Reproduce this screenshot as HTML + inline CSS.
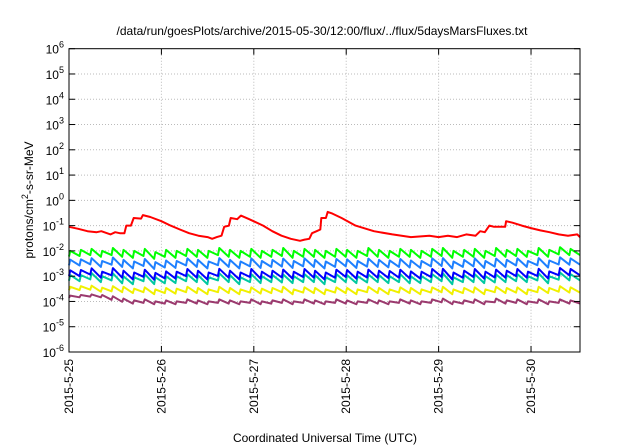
<!DOCTYPE html>
<html><head><meta charset="utf-8"><style>
body{margin:0;background:#fff;}
svg{display:block;font-family:"Liberation Sans",sans-serif;}
</style></head><body>
<svg id="chart" width="640" height="448"></svg>
<script>
const dayLabels=["2015-5-25","2015-5-26","2015-5-27","2015-5-28","2015-5-29","2015-5-30"];
const yExponents=[-6,-5,-4,-3,-2,-1,0,1,2,3,4,5,6];
const redT=[0,0.1,0.2,0.3,0.35,0.45,0.5,0.55,0.6,0.62,0.67,0.7,0.78,0.8,0.88,1.0,1.1,1.2,1.3,1.4,1.5,1.55,1.6,1.65,1.68,1.73,1.75,1.82,1.86,1.95,2.1,2.2,2.3,2.4,2.5,2.55,2.6,2.63,2.68,2.72,2.73,2.78,2.8,2.85,2.95,3.1,3.3,3.5,3.7,3.9,4.0,4.1,4.2,4.3,4.4,4.45,4.5,4.55,4.6,4.72,4.73,4.8,4.9,5.0,5.1,5.2,5.3,5.4,5.5,5.53];
const redV=[0.09,0.075,0.06,0.055,0.06,0.045,0.055,0.05,0.05,0.1,0.1,0.2,0.19,0.26,0.22,0.15,0.1,0.07,0.05,0.04,0.035,0.03,0.035,0.04,0.09,0.1,0.2,0.18,0.25,0.18,0.1,0.06,0.04,0.03,0.025,0.028,0.03,0.05,0.06,0.07,0.2,0.2,0.35,0.3,0.2,0.1,0.06,0.045,0.035,0.04,0.035,0.04,0.035,0.045,0.04,0.06,0.055,0.1,0.09,0.09,0.15,0.13,0.1,0.08,0.065,0.055,0.045,0.04,0.045,0.035];
const greenPeak=[1.0,1.1,1.2,1.0,1.3,1.1,1.0,1.2,0.9,1.1,1.0,1.2,1.1,1.0,1.3,1.1,1.0,1.2,1.0,1.1,1.3,1.0,1.2,1.1,1.0,1.2,1.1,1.0,1.3,1.1,1.0,1.2,1.1,1.0,1.2,1.3,1.0,1.1,1.2,1.0,1.3,1.1,1.2,1.0,1.3,1.1,1.4,1.2];
const greenLow=[0.6,0.65,0.7,0.6,0.7,0.6,0.55,0.65,0.5,0.6,0.55,0.65,0.6,0.55,0.7,0.6,0.55,0.6,0.55,0.6,0.65,0.55,0.6,0.6,0.55,0.6,0.6,0.55,0.65,0.6,0.55,0.6,0.6,0.55,0.6,0.65,0.55,0.6,0.6,0.55,0.65,0.6,0.65,0.6,0.7,0.6,0.75,0.7];
const lblueFactor=[0.45,0.42,0.43,0.4,0.42,0.4,0.38,0.4,0.4,0.38,0.4,0.42,0.4,0.38,0.4,0.4,0.38,0.42,0.4,0.4,0.38,0.4,0.42,0.4,0.38,0.4,0.42,0.4,0.38,0.4,0.42,0.4,0.38,0.4,0.42,0.4,0.38,0.4,0.42,0.4,0.38,0.4,0.42,0.4,0.4,0.38,0.4,0.42];
const blueFactor=[0.17,0.16,0.17,0.15,0.16,0.15,0.14,0.15,0.15,0.14,0.15,0.16,0.15,0.14,0.15,0.15,0.14,0.16,0.15,0.15,0.14,0.15,0.16,0.15,0.14,0.15,0.16,0.15,0.14,0.15,0.16,0.15,0.14,0.15,0.16,0.15,0.14,0.15,0.16,0.15,0.14,0.15,0.16,0.15,0.15,0.14,0.15,0.16];
const tealFactor=[0.11,0.1,0.11,0.1,0.1,0.09,0.09,0.1,0.1,0.09,0.1,0.1,0.1,0.09,0.1,0.1,0.09,0.1,0.1,0.1,0.09,0.1,0.1,0.1,0.09,0.1,0.1,0.1,0.09,0.1,0.1,0.1,0.09,0.1,0.1,0.1,0.09,0.1,0.1,0.1,0.09,0.1,0.1,0.1,0.1,0.09,0.1,0.1];
const yellowPeak=[3.8,4.0,4.2,3.5,4.0,3.8,3.2,3.6,3.0,3.4,3.2,3.8,3.4,3.0,3.8,3.4,3.0,3.6,3.2,3.4,3.8,3.0,3.6,3.4,3.0,3.6,3.4,3.0,3.8,3.4,3.0,3.6,3.4,3.0,3.6,3.8,3.0,3.4,3.6,3.0,3.8,3.4,3.6,3.0,3.8,3.4,4.0,3.6];
const yellowLow=[2.8,2.9,3.0,2.5,2.6,2.4,2.2,2.4,2.0,2.2,2.1,2.4,2.2,2.0,2.4,2.2,2.0,2.3,2.1,2.2,2.4,2.0,2.3,2.2,2.0,2.3,2.2,2.0,2.4,2.2,2.0,2.3,2.2,2.0,2.3,2.4,2.0,2.2,2.3,2.0,2.4,2.2,2.3,2.0,2.4,2.2,2.5,2.3];
const purplePeak=[1.7,1.8,1.9,1.8,1.6,1.3,1.1,1.2,1.0,1.1,1.0,1.2,1.1,1.0,1.2,1.1,1.0,1.2,1.0,1.1,1.2,1.0,1.2,1.1,1.0,1.2,1.1,1.0,1.2,1.1,1.0,1.2,1.1,1.0,1.2,1.3,1.0,1.1,1.2,1.0,1.3,1.1,1.2,1.0,1.2,1.0,1.2,1.1];
const purpleLow=[1.4,1.5,1.6,1.5,1.2,1.0,0.85,0.9,0.8,0.85,0.8,0.9,0.85,0.8,0.9,0.85,0.8,0.9,0.8,0.85,0.9,0.8,0.9,0.85,0.8,0.9,0.85,0.8,0.9,0.85,0.8,0.9,0.85,0.8,0.9,0.95,0.8,0.85,0.9,0.8,0.95,0.85,0.9,0.8,0.9,0.8,0.9,0.85];
const NS="http://www.w3.org/2000/svg";
const svg=document.getElementById('chart');
const L=69,R=580,T=48.7,B=352,tEnd=5.53;
const xS=t=>L+t*(R-L)/tEnd;
const yS=v=>T+(6-Math.log10(v))*(B-T)/12;
function mk(tag,attrs,parent){const e=document.createElementNS(NS,tag);for(const k in attrs)e.setAttribute(k,attrs[k]);(parent||svg).appendChild(e);return e;}
// grid
yExponents.forEach((ex,i)=>{if(ex>-6&&ex<6){const g=mk('line',{x1:L,x2:R,y1:yS(Math.pow(10,ex)),y2:yS(Math.pow(10,ex)),stroke:'#bbb','stroke-dasharray':'1,2'});

}});
dayLabels.forEach((d,i)=>{const g=mk('line',{x1:xS(i),x2:xS(i),y1:T,y2:B,stroke:'#bbb','stroke-dasharray':'1,2'});

});
// series
const n=greenPeak.length, step=tEnd/n;
function tooth(peaks,lows,unit,color,name){
  let d='';
  for(let i=0;i<n;i++){const t0=i*step;
    d+=(i?'L':'M')+xS(t0).toFixed(1)+','+yS(lows[i]*unit).toFixed(1)+'L'+xS(t0+step*0.12).toFixed(1)+','+yS(peaks[i]*unit).toFixed(1);
    const nl=i+1<n?lows[i+1]:lows[i];
    d+='L'+xS(t0+step).toFixed(1)+','+yS(nl*unit*0.97).toFixed(1);}
  const p=mk('path',{d:d,fill:'none',stroke:color,'stroke-width':2,'stroke-linejoin':'round'});
  
  
}
tooth(purplePeak,purpleLow,1e-4,'#9b3a6e','series-purple');
tooth(yellowPeak,yellowLow,1e-4,'#f0f000','series-yellow');
tooth(greenPeak.map((v,i)=>v*tealFactor[i]),greenLow.map((v,i)=>v*tealFactor[i]),1e-2,'#00c8a0','series-teal');
tooth(greenPeak.map((v,i)=>v*blueFactor[i]),greenLow.map((v,i)=>v*blueFactor[i]),1e-2,'#0000ff','series-blue');
tooth(greenPeak.map((v,i)=>v*lblueFactor[i]),greenLow.map((v,i)=>v*lblueFactor[i]),1e-2,'#1e80ff','series-lightblue');
tooth(greenPeak,greenLow,1e-2,'#00ff00','series-green');
let rd='';redT.forEach((t,i)=>{rd+=(i?'L':'M')+xS(t).toFixed(1)+','+yS(redV[i]).toFixed(1);});
const rp=mk('path',{d:rd,fill:'none',stroke:'#ff0000','stroke-width':2,'stroke-linejoin':'round'});


// frame
const fr=mk('rect',{x:L,y:T,width:R-L,height:B-T,fill:'none',stroke:'#000','stroke-width':1});


// y ticks/labels
yExponents.forEach(ex=>{const y=yS(Math.pow(10,ex));
  mk('line',{x1:L,x2:L+6,y1:y,y2:y,stroke:'#000'});mk('line',{x1:R,x2:R-6,y1:y,y2:y,stroke:'#000'});
  const tx=mk('text',{x:L-5,y:y+5,'text-anchor':'end','font-size':12});
  
  
  tx.innerHTML='10<tspan dy="-6" font-size="9">'+ex+'</tspan>';});
dayLabels.forEach((d,i)=>{const x=xS(i);
  mk('line',{x1:x,x2:x,y1:B,y2:B-6,stroke:'#000'});mk('line',{x1:x,x2:x,y1:T,y2:T+6,stroke:'#000'});
  const tx=mk('text',{x:0,y:0,'text-anchor':'end','font-size':12,transform:'translate('+(x+4)+','+(B+7)+') rotate(-90)'});
  
  
  tx.textContent=d;});
</script>
<svg style="position:absolute;left:0;top:0" width="640" height="448">
<text x="322" y="35" text-anchor="middle" font-size="12" font-family="Liberation Sans">/data/run/goesPlots/archive/2015-05-30/12:00/flux/../flux/5daysMarsFluxes.txt</text>
<text x="325" y="442" text-anchor="middle" font-size="12" font-family="Liberation Sans">Coordinated Universal Time (UTC)</text>
<text transform="translate(33,200) rotate(-90)" text-anchor="middle" font-size="12" font-family="Liberation Sans">protons/cm<tspan dy="-5" font-size="9">2</tspan><tspan dy="5">-s-sr-MeV</tspan></text>
</svg>
</body></html>
